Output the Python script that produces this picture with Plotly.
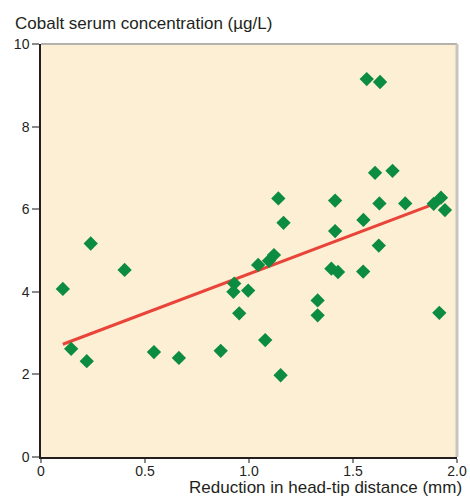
import plotly.graph_objects as go

# Reduction in head-tip distance (mm)
x_vals = [0.105, 0.145, 0.220, 0.239, 0.402, 0.543, 0.663, 0.864, 0.929, 0.925,
          0.953, 0.996, 1.044, 1.096, 1.120, 1.078, 1.141, 1.152, 1.166, 1.330,
          1.330, 1.396, 1.428, 1.414, 1.414, 1.549, 1.550, 1.566, 1.630, 1.606,
          1.690, 1.627, 1.624, 1.751, 1.888, 1.923, 1.942, 1.915]
# Cobalt serum concentration (µg/L)
y_vals = [4.07, 2.62, 2.32, 5.17, 4.53, 2.54, 2.40, 2.57, 4.20, 4.00,
          3.48, 4.03, 4.65, 4.75, 4.89, 2.83, 6.26, 1.98, 5.67, 3.79,
          3.43, 4.56, 4.48, 6.21, 5.47, 4.49, 5.74, 9.15, 9.08, 6.88,
          6.93, 6.14, 5.12, 6.14, 6.13, 6.28, 5.98, 3.49]

# regression line endpoints
fit_x = [0.105, 1.907]
fit_y = [2.73, 6.16]

x_tickvals = [0, 0.5, 1.0, 1.5, 2.0]
x_ticktext = ["0", "0.5", "1.0", "1.5", "2.0"]
y_tickvals = [0, 2, 4, 6, 8, 10]

font_family = "Liberation Sans, Arial, Helvetica, sans-serif"

fig = go.Figure()
fig.add_trace(go.Scatter(
    x=fit_x, y=fit_y, mode="lines",
    line=dict(color="#e8443a", width=3), hoverinfo="skip", showlegend=False))
fig.add_trace(go.Scatter(
    x=x_vals, y=y_vals, mode="markers",
    marker=dict(symbol="diamond", size=11, color="#0b8c40", line=dict(width=0)),
    showlegend=False))

fig.update_layout(
    width=470, height=497,
    margin=dict(l=41, r=13, t=44, b=40, autoexpand=False),
    paper_bgcolor="white",
    plot_bgcolor="#fdefd3",
    font=dict(family=font_family, size=13, color="#231f20"),
    xaxis=dict(range=[0, 2.0], tickvals=x_tickvals, ticktext=x_ticktext,
               showgrid=False, zeroline=False, showline=True,
               linecolor="#231f20", linewidth=1.5,
               ticks="outside", ticklen=4, tickcolor="#8a8a8a", tickwidth=1.5,
               ticklabelstandoff=-4,
               tickfont=dict(size=14), automargin=False),
    yaxis=dict(range=[0, 10], tickvals=y_tickvals,
               showgrid=False, zeroline=False, showline=True,
               linecolor="#231f20", linewidth=1.5,
               ticks="outside", ticklen=7, tickcolor="#8a8a8a", tickwidth=1.5,
               tickfont=dict(size=14), automargin=False),
    shapes=[
        dict(type="line", xref="paper", yref="paper", x0=0, x1=1, y0=1, y1=1,
             line=dict(color="#b5b2ab", width=2)),
        dict(type="line", xref="paper", yref="paper", x0=1, x1=1, y0=0, y1=1,
             line=dict(color="#c8c5be", width=3)),
    ],
    annotations=[
        dict(text="Cobalt serum concentration (µg/L)", xref="paper", yref="paper",
             x=-0.067, y=1.0, yshift=21, xanchor="left", yanchor="middle",
             showarrow=False, font=dict(size=17, color="#231f20")),
        dict(text="Reduction in head-tip distance (mm)", xref="paper", yref="paper",
             x=1.0, y=0, xanchor="right", yanchor="middle", xshift=7, yshift=-30,
             showarrow=False, font=dict(size=17, color="#231f20")),
    ],
)

fig.write_html(
    "out.html",
    config={"displayModeBar": False},
    post_script="document.body.style.margin='0';document.body.style.overflow='hidden';",
)
